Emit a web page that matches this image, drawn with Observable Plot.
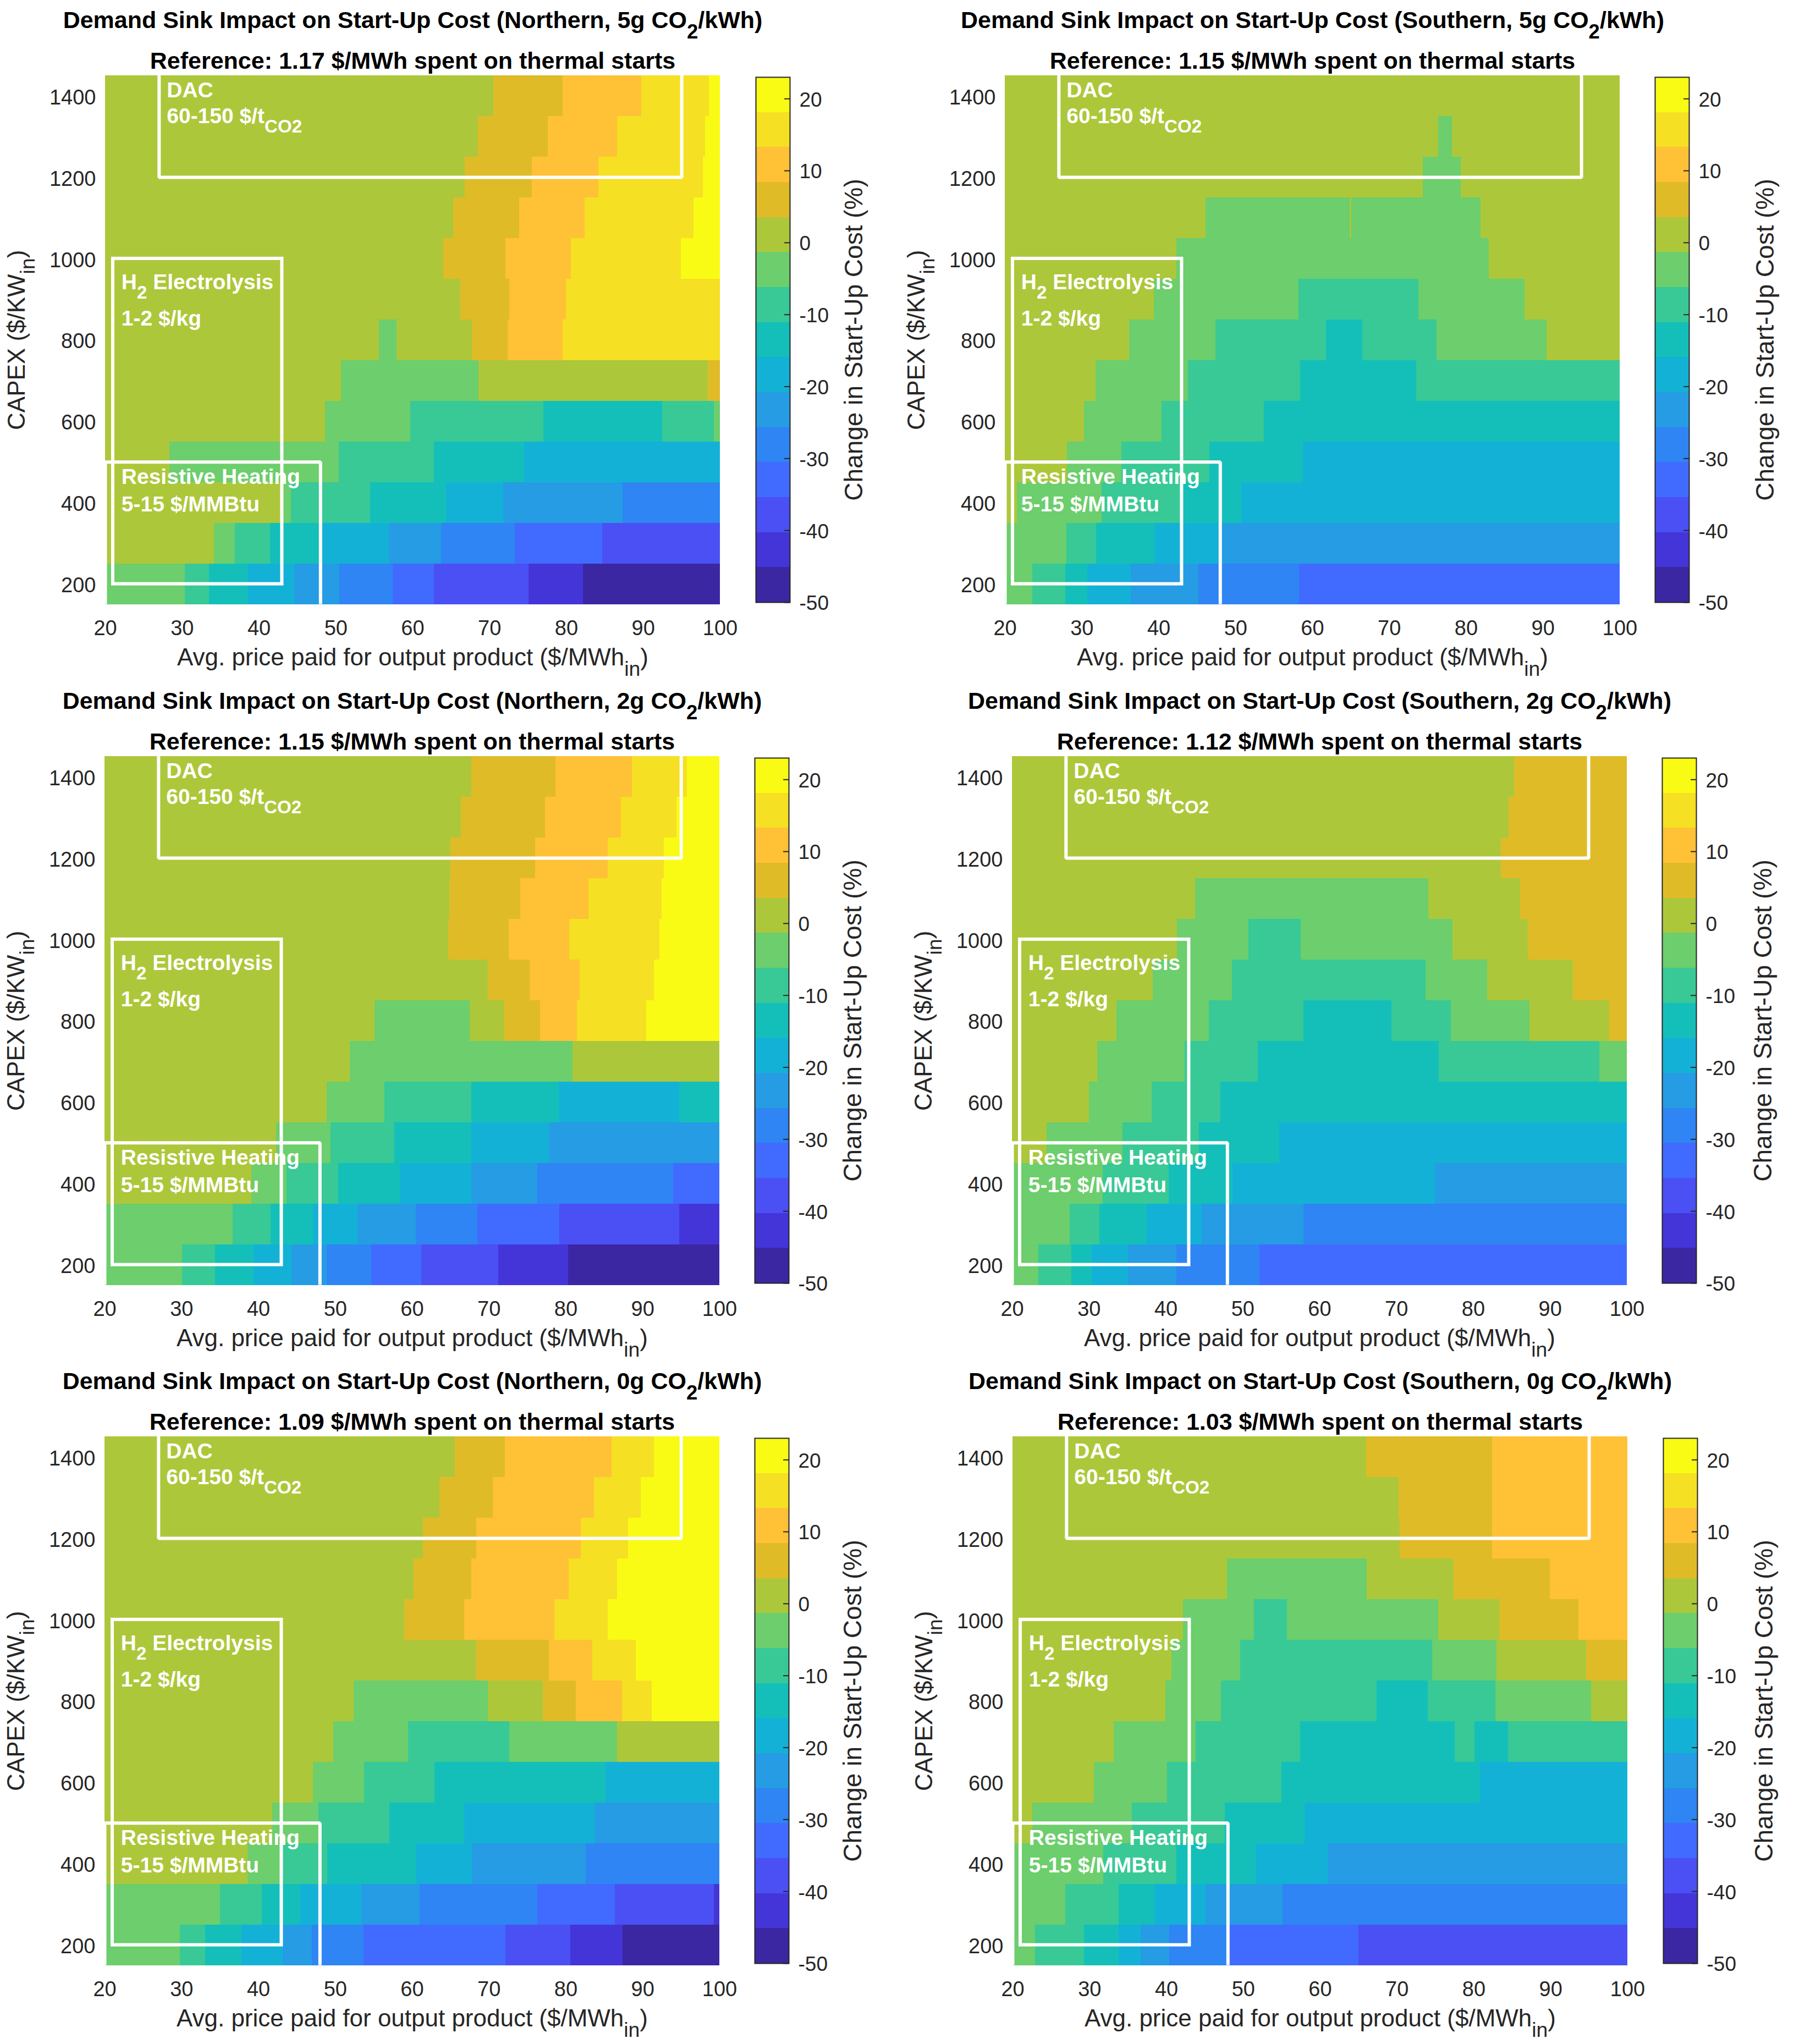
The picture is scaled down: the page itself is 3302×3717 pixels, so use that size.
<!DOCTYPE html>
<html>
<head>
<meta charset="utf-8">
<script src="https://cdn.jsdelivr.net/npm/d3@7"></script>
<script src="https://cdn.jsdelivr.net/npm/@observablehq/plot@0.6"></script>
<style>
  html, body { margin: 0; padding: 0; background: #fff; }
  #page { position: relative; width: 3302px; height: 3717px; overflow: hidden; }
  #page > div { position: absolute; }
  svg { overflow: visible; background: transparent !important; }
  g[aria-label="x-axis label"], g[aria-label="y-axis label"] { font-size: 44px; }
  .bar g[aria-label="y-axis label"] { font-size: 46px; }
</style>
</head>
<body>
<div id="page"></div>
<script>
// rows of the grid, top to bottom
const capexRows = [1400, 1300, 1200, 1100, 1000, 900, 800, 700, 600, 500, 400, 300, 200];
const priceTicks = [20, 30, 40, 50, 60, 70, 80, 90, 100];
const capexTicks = [200, 400, 600, 800, 1000, 1200, 1400];
const barTicks = [-50, -40, -30, -20, -10, 0, 10, 20];

// colourbar bands (%)
const bandEdges = [-50, -45.1, -40.3, -35.4, -30.5, -25.7, -20.8, -15.9, -11.1, -6.2, -1.3, 3.5, 8.4, 13.3, 18.1, 23];
const bandValues = [-48, -43, -38, -33, -28, -23, -18, -13, -9, -4, 1, 6, 11, 16, 21];
const bandColors = ["#3b27a1", "#4435d8", "#4a50f3", "#416bfe", "#2e85f3", "#259ce4", "#14b1d7", "#14bfb9", "#38c996", "#6cce6c", "#adc73a", "#e0bb28", "#ffc136", "#f5e023", "#f9fb14"];

// each row: price where the value changes, then the value of each run
const north5Breaks = [
  [70.5, 79.5, 89.8, 98.6],
  [68.5, 77.6, 86.6, 98.1],
  [66.8, 75.5, 84.2, 97.8],
  [65.3, 73.9, 82.4, 96.6],
  [64, 72.1, 80.6, 94.9],
  [66.2, 72.6, 80],
  [55.6, 57.9, 67.7, 72.4, 79.5],
  [50.7, 68.6, 98.4],
  [48.6, 59.7, 77, 92.5, 99.2],
  [28.4, 50.4, 62.8, 74.5],
  [42.8, 44.2, 54.5, 64.4, 71.8, 87.3],
  [34.2, 36.9, 41.5, 48.3, 56.9, 63.7, 73.3, 84.7],
  [30.4, 33.5, 38.5, 44.6, 50.5, 57.4, 62.8, 75.1, 82.2]
];
const north5Values = [
  [1, 6, 11, 16, 21],
  [1, 6, 11, 16, 21],
  [1, 6, 11, 16, 21],
  [1, 6, 11, 16, 21],
  [1, 6, 11, 16, 21],
  [1, 6, 11, 16],
  [1, -4, 1, 6, 11, 16],
  [1, -4, 1, 6],
  [1, -4, -9, -13, -9, -4],
  [1, -4, -9, -13, -18],
  [1, -4, -9, -13, -18, -23, -28],
  [1, -4, -9, -13, -18, -23, -28, -33, -38],
  [-4, -9, -13, -18, -23, -28, -33, -38, -43, -48]
];

const south5Breaks = [
  [],
  [76.4, 78.2],
  [74.4, 79.3],
  [46.1, 64.9, 65.1, 81.9],
  [42.3, 83],
  [39.4, 58.2, 73.8, 87.6],
  [36.2, 47.4, 61.8, 66.5, 76.2, 90.5],
  [31.8, 43.8, 58.4, 73.5],
  [30.3, 40.4, 53.7],
  [28.1, 35.2, 46.6, 58.8],
  [21.6, 32.6, 42.8, 50.8],
  [28, 31.9, 39.5, 48],
  [23.6, 27.9, 30.7, 36.4, 45.2, 58.3]
];
const south5Values = [
  [1],
  [1, -4, 1],
  [1, -4, 1],
  [1, -4, 1, -4, 1],
  [1, -4, 1],
  [1, -4, -9, -4, 1],
  [1, -4, -9, -13, -9, -4, 1],
  [1, -4, -9, -13, -9],
  [1, -4, -9, -13],
  [1, -4, -9, -13, -18],
  [1, -4, -9, -13, -18],
  [-4, -9, -13, -18, -23],
  [-4, -9, -13, -18, -23, -28, -33]
];

const north2Breaks = [
  [67.7, 78.7, 88.6, 95.8],
  [66.4, 77.3, 87.2, 94.4],
  [65, 76, 85.5, 92.8],
  [64.9, 74.1, 83, 92.5],
  [64.7, 72.6, 80.5, 92.2],
  [69.9, 75.3, 81.8, 91.5],
  [55.1, 67.5, 72, 76.7, 81.5, 90.5],
  [51.9, 80.9],
  [48.9, 56.4, 67.7, 79.1, 94.8],
  [42.3, 49.4, 57.7, 67.7, 77.8],
  [39.1, 43.7, 50.4, 58.4, 67.7, 76.3, 94],
  [36.7, 41.6, 47.1, 52.9, 60.5, 68.5, 79.2, 94.8],
  [30.1, 34.4, 39.4, 44.3, 48.9, 54.7, 61.2, 71.2, 80.3]
];
const north2Values = [
  [1, 6, 11, 16, 21],
  [1, 6, 11, 16, 21],
  [1, 6, 11, 16, 21],
  [1, 6, 11, 16, 21],
  [1, 6, 11, 16, 21],
  [1, 6, 11, 16, 21],
  [1, -4, 1, 6, 11, 16, 21],
  [1, -4, 1],
  [1, -4, -9, -13, -18, -13],
  [1, -4, -9, -13, -18, -23],
  [1, -4, -9, -13, -18, -23, -28, -33],
  [-4, -9, -13, -18, -23, -28, -33, -38, -43],
  [-4, -9, -13, -18, -23, -28, -33, -38, -43, -48]
];

const south2Breaks = [
  [85.3],
  [84.6],
  [83.6],
  [43.8, 74.2, 86.1],
  [41.5, 50.8, 57.6, 77.3, 87.1],
  [38.3, 48.6, 73.8, 81.8, 93],
  [33.6, 45.6, 57.9, 69.4, 77.1, 87.3, 97.7],
  [31.1, 42.5, 52, 75.5, 96.4],
  [30, 38.2, 47.1],
  [24.5, 34.4, 44.3, 54.8],
  [31.8, 40.4, 48.7, 75],
  [27.5, 31.4, 37.5, 44.7, 57.9],
  [23.4, 27.7, 30.4, 35.1, 41.4, 52.2]
];
const south2Values = [
  [1, 6],
  [1, 6],
  [1, 6],
  [1, -4, 1, 6],
  [1, -4, -9, -4, 1, 6],
  [1, -4, -9, -4, 1, 6],
  [1, -4, -9, -13, -9, -4, 1, 6],
  [1, -4, -9, -13, -9, -4],
  [1, -4, -9, -13],
  [1, -4, -9, -13, -18],
  [-4, -9, -13, -18, -23],
  [-4, -9, -13, -18, -23, -28],
  [-4, -9, -13, -18, -23, -28, -33]
];

const north0Breaks = [
  [65.6, 72.1, 86, 91.5],
  [63.6, 70.5, 83.7, 89.8],
  [61.4, 68.4, 82, 88.1],
  [60.2, 67.7, 80.4, 86.7],
  [59, 66.8, 78.5, 85.5],
  [68.4, 77.8, 83.5, 89.1],
  [52.4, 69.9, 77, 81.3, 87.3, 91.2],
  [49.8, 59.5, 72.7, 86.7],
  [47.1, 53.8, 62.9, 85.2],
  [41.8, 47.8, 57.1, 66.8, 83.8],
  [38.6, 43.2, 49, 60.5, 67.8, 82.6],
  [35, 40.5, 45.5, 53.4, 61, 76.3, 86.4, 99.3],
  [29.8, 33.1, 37.8, 43.2, 47, 53.7, 72.2, 80.6, 87.4]
];
const north0Values = [
  [1, 6, 11, 16, 21],
  [1, 6, 11, 16, 21],
  [1, 6, 11, 16, 21],
  [1, 6, 11, 16, 21],
  [1, 6, 11, 16, 21],
  [1, 6, 11, 16, 21],
  [1, -4, 1, 6, 11, 16, 21],
  [1, -4, -9, -4, 1],
  [1, -4, -9, -13, -18],
  [1, -4, -9, -13, -18, -23],
  [1, -4, -9, -13, -18, -23, -28],
  [-4, -9, -13, -18, -23, -28, -33, -38, -43],
  [-4, -9, -13, -18, -23, -28, -33, -38, -43, -48]
];

const south0Breaks = [
  [66, 82.4],
  [70.2, 82.4],
  [70.4, 82.4],
  [47.9, 66.1, 77.4, 89.9],
  [42.2, 51.4, 55.7, 75.4, 83.4, 93.6],
  [40.7, 49.6, 74.6, 83, 94.6],
  [39.9, 47.1, 67.4, 74, 82.8, 95.3],
  [33.2, 43.8, 57.4, 77.5, 80.1, 84.5],
  [30.6, 40.1, 55, 80.8],
  [22.6, 35.5, 47.6, 58],
  [31.8, 41.3, 51.6, 61],
  [26.9, 33.8, 38.5, 45.1, 55.1],
  [22.9, 29.3, 33.8, 36.7, 40.4, 48.2, 65]
];
const south0Values = [
  [1, 6, 11],
  [1, 6, 11],
  [1, 6, 11],
  [1, -4, 1, 6, 11],
  [1, -4, -9, -4, 1, 6, 11],
  [1, -4, -9, -4, 1, 6],
  [1, -4, -9, -13, -9, -4, 1],
  [1, -4, -9, -13, -9, -13, -9],
  [1, -4, -9, -13, -18],
  [1, -4, -9, -13, -18],
  [-4, -9, -13, -18, -23],
  [-4, -9, -13, -18, -23, -28],
  [-4, -9, -13, -18, -23, -28, -33, -38]
];

// demand sink boxes
const dacX = [27, 27, 95, 95];
const dacY = [1448, 1200, 1200, 1448];
const heatX = [20, 20, 48, 48];
const heatY = [151, 500, 500, 151];
const h2Box = [{x1: 21, x2: 43, y1: 200, y2: 1000}];
const noteText = ["DAC", "60-150 $/t_{CO2}", "H_{2} Electrolysis", "1-2 $/kg", "Resistive Heating", "5-15 $/MMBtu"];
const noteX = [28, 28, 22.1, 22.1, 22.1, 22.1];
const noteY = [1414, 1350, 941, 852, 463, 396];

const panels = [
  {region: "Northern", grams: 5, reference: "1.17", breaks: north5Breaks, values: north5Values, left: 191, top: 136.7, barLeft: 1374, barLabel: 131},
  {region: "Southern", grams: 5, reference: "1.15", breaks: south5Breaks, values: south5Values, left: 1827, top: 136.7, barLeft: 3009, barLabel: 153},
  {region: "Northern", grams: 2, reference: "1.15", breaks: north2Breaks, values: north2Values, left: 190, top: 1374.5, barLeft: 1372, barLabel: 131},
  {region: "Southern", grams: 2, reference: "1.12", breaks: south2Breaks, values: south2Values, left: 1840, top: 1374.5, barLeft: 3022, barLabel: 136},
  {region: "Northern", grams: 0, reference: "1.09", breaks: north0Breaks, values: north0Values, left: 190, top: 2611.7, barLeft: 1372, barLabel: 131},
  {region: "Southern", grams: 0, reference: "1.03", breaks: south0Breaks, values: south0Values, left: 1841, top: 2611.7, barLeft: 3024, barLabel: 136}
];

const plotWidth = 1118;
const plotHeight = 961.6;
const ink = "#262626";
const fontFamily = "'Liberation Sans', Arial, sans-serif";

const colorScale = {type: "threshold", domain: bandEdges.slice(1, -1), range: bandColors};

function runsToCells(breaks, values) {
  const cells = [];
  capexRows.forEach((capex, i) => {
    const edges = [20, ...breaks[i], 100];
    values[i].forEach((value, j) => {
      cells.push({x1: edges[j], x2: edges[j + 1], y1: capex - 50, y2: capex + 50, value});
    });
  });
  return cells;
}

// turn _{..} in any text into a real subscript
function addSubscripts(svg) {
  svg.querySelectorAll("text").forEach(t => {
    if (!t.textContent.includes("_{")) return;
    const parts = t.textContent.split(/_\{(.*?)\}/);
    t.textContent = "";
    parts.forEach((part, i) => {
      if (!part) return;
      const span = document.createElementNS("http://www.w3.org/2000/svg", "tspan");
      span.textContent = part;
      if (i % 2) {
        span.setAttribute("font-size", "85%");
        span.setAttribute("dy", "0.5em");
      } else if (i > 0) {
        span.setAttribute("dy", "-0.425em");
      }
      t.appendChild(span);
    });
  });
  return svg;
}

function heatPlot(panel) {
  const marginLeft = 191;
  const marginTop = 137;
  const svg = Plot.plot({
    width: marginLeft + plotWidth + 50,
    height: marginTop + plotHeight + 140,
    marginLeft,
    marginRight: 50,
    marginTop,
    marginBottom: 140,
    style: {background: "transparent", color: ink, fontFamily, fontSize: "38px"},
    x: {domain: [20, 100], ticks: priceTicks, tickSize: 0, tickPadding: 29, label: "Avg. price paid for output product ($/MWh_{in})", labelAnchor: "center", labelArrow: "none", labelOffset: 111},
    y: {domain: [150, 1450]},
    color: colorScale,
    marks: [
      Plot.rect(runsToCells(panel.breaks, panel.values), {x1: "x1", x2: "x2", y1: "y1", y2: "y2", fill: "value", shapeRendering: "crispEdges"}),
      Plot.axisY({ticks: capexTicks, tickFormat: String, tickSize: 0, tickPadding: 17, dy: 3, label: "CAPEX ($/KW_{in})", labelAnchor: "center", labelArrow: "none", labelOffset: 178}),
      Plot.line(dacX.map((x, i) => ({x, y: dacY[i]})), {x: "x", y: "y", stroke: "white", strokeWidth: 6, strokeLinejoin: "miter", clip: true}),
      Plot.line(heatX.map((x, i) => ({x, y: heatY[i]})), {x: "x", y: "y", stroke: "white", strokeWidth: 6, strokeLinejoin: "miter", clip: true}),
      Plot.rect(h2Box, {x1: "x1", x2: "x2", y1: "y1", y2: "y2", stroke: "white", strokeWidth: 6, fill: "none"}),
      Plot.text(noteText, {x: (d, i) => noteX[i], y: (d, i) => noteY[i], text: d => d, textAnchor: "start", fill: "white", fontWeight: "bold", fontSize: 39}),
      Plot.text([`Demand Sink Impact on Start-Up Cost (${panel.region}, ${panel.grams}g CO_{2}/kWh)`], {text: d => d, frameAnchor: "top", lineAnchor: "middle", dy: -100, fill: "black", fontWeight: "bold", fontSize: 43}),
      Plot.text([`Reference: ${panel.reference} $/MWh spent on thermal starts`], {text: d => d, frameAnchor: "top", lineAnchor: "middle", dy: -26, fill: "black", fontWeight: "bold", fontSize: 43})
    ]
  });
  return addSubscripts(svg);
}

function colorBar(labelOffset) {
  const bands = bandValues.map((value, i) => ({y1: bandEdges[i], y2: bandEdges[i + 1], value}));
  const svg = Plot.plot({
    width: 62 + 180,
    height: 955 + 40,
    marginLeft: 0,
    marginRight: 180,
    marginTop: 20,
    marginBottom: 20,
    style: {background: "transparent", color: ink, fontFamily, fontSize: "37px"},
    x: {domain: [0, 1], axis: null},
    y: {domain: [-50, 23]},
    color: colorScale,
    marks: [
      Plot.rect(bands, {x1: 0, x2: 1, y1: "y1", y2: "y2", fill: "value", shapeRendering: "crispEdges"}),
      Plot.ruleY(barTicks, {x1: 0.84, x2: 1, stroke: ink, strokeWidth: 2}),
      Plot.frame({stroke: ink, strokeWidth: 2}),
      Plot.axisY({anchor: "right", ticks: barTicks, tickFormat: String, tickSize: 0, tickPadding: 17, dy: 2, label: "Change in Start-Up Cost (%)", labelAnchor: "center", labelArrow: "none", labelOffset})
    ]
  });
  return svg;
}

const page = document.getElementById("page");
panels.forEach(panel => {
  const heat = document.createElement("div");
  heat.style.left = (panel.left - 191) + "px";
  heat.style.top = (panel.top - 137) + "px";
  heat.appendChild(heatPlot(panel));
  page.appendChild(heat);

  const bar = document.createElement("div");
  bar.className = "bar";
  bar.style.left = panel.barLeft + "px";
  bar.style.top = (panel.top + 3.3 - 20) + "px";
  bar.appendChild(colorBar(panel.barLabel));
  page.appendChild(bar);
});
</script>
</body>
</html>
